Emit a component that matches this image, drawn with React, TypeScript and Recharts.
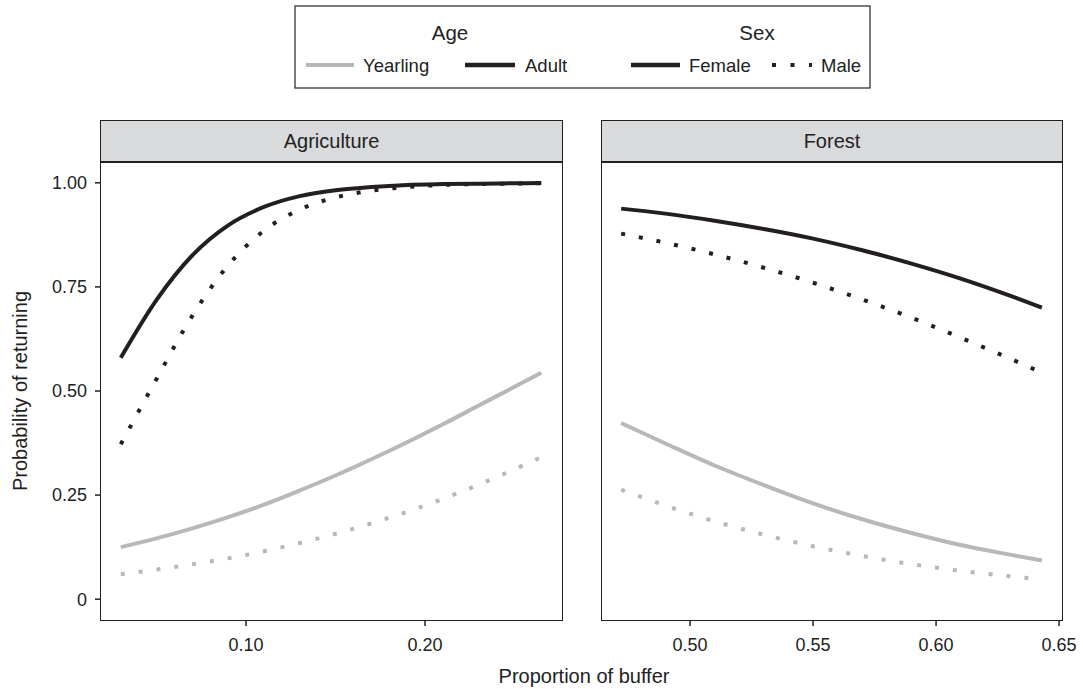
import React from "react";
import { LineChart, Line, XAxis, YAxis } from "recharts";

// Agriculture panel: proportion of buffer vs probability of returning
const agriX = [0.03, 0.05, 0.07, 0.09, 0.11, 0.13, 0.15, 0.17, 0.19, 0.21, 0.23, 0.25, 0.265];
const agriAdultFemale = [0.58, 0.719, 0.826, 0.898, 0.942, 0.968, 0.982, 0.99, 0.995, 0.997, 0.998, 0.999, 0.9995];
const agriAdultMale = [0.372, 0.529, 0.681, 0.802, 0.885, 0.936, 0.965, 0.981, 0.99, 0.995, 0.997, 0.998, 0.999];
const agriYearlingFemale = [0.125, 0.146, 0.17, 0.197, 0.227, 0.261, 0.297, 0.336, 0.377, 0.42, 0.465, 0.51, 0.544];
const agriYearlingMale = [0.06, 0.071, 0.084, 0.098, 0.115, 0.135, 0.157, 0.182, 0.21, 0.241, 0.275, 0.312, 0.341];

// Forest panel
const forestX = [0.472, 0.49, 0.51, 0.53, 0.55, 0.57, 0.59, 0.61, 0.63, 0.643];
const forestAdultFemale = [0.938, 0.926, 0.909, 0.889, 0.866, 0.838, 0.806, 0.77, 0.729, 0.7];
const forestAdultMale = [0.878, 0.856, 0.828, 0.796, 0.76, 0.72, 0.676, 0.628, 0.578, 0.544];
const forestYearlingFemale = [0.423, 0.374, 0.321, 0.274, 0.23, 0.192, 0.159, 0.13, 0.107, 0.093];
const forestYearlingMale = [0.263, 0.225, 0.187, 0.155, 0.127, 0.104, 0.084, 0.068, 0.055, 0.048];

const yTicks = [0, 0.25, 0.5, 0.75, 1];
const agriTicks = [0.1, 0.2];
const forestTicks = [0.5, 0.55, 0.6, 0.65];

const BLACK = "#231f20";
const GREY = "#b8b8b8";
const DOTS = "4 14";
const FONT = "'Liberation Sans', Arial, Helvetica, sans-serif";

const buildRows = (xs: number[], af: number[], am: number[], yf: number[], ym: number[]) =>
  xs.map((x, i) => ({ x, af: af[i], am: am[i], yf: yf[i], ym: ym[i] }));

const agriRows = buildRows(agriX, agriAdultFemale, agriAdultMale, agriYearlingFemale, agriYearlingMale);
const forestRows = buildRows(forestX, forestAdultFemale, forestAdultMale, forestYearlingFemale, forestYearlingMale);

const tickStyle = { fontSize: 18, fill: "#222", fontFamily: FONT };
const fmtY = (v: number) => (v === 0 ? "0" : v.toFixed(2));
const fmtX = (v: number) => v.toFixed(2);

function Series() {
  return [
    <Line key="yf" dataKey="yf" type="monotone" stroke={GREY} strokeWidth={4} dot={false} isAnimationActive={false} />,
    <Line key="ym" dataKey="ym" type="monotone" stroke={GREY} strokeWidth={4} strokeDasharray={DOTS} dot={false} isAnimationActive={false} />,
    <Line key="af" dataKey="af" type="monotone" stroke={BLACK} strokeWidth={4} dot={false} isAnimationActive={false} />,
    <Line key="am" dataKey="am" type="monotone" stroke={BLACK} strokeWidth={4} strokeDasharray={DOTS} dot={false} isAnimationActive={false} />,
  ];
}

function Strip({ left, width, label }: { left: number; width: number; label: string }) {
  return (
    <div
      style={{
        position: "absolute",
        left,
        top: 120,
        width,
        height: 43,
        boxSizing: "border-box",
        background: "#d9dadc",
        border: `1.5px solid ${BLACK}`,
        borderBottomWidth: 2,
        display: "flex",
        alignItems: "center",
        justifyContent: "center",
        fontSize: 20,
        color: "#222",
      }}
    >
      {label}
    </div>
  );
}

function Frame({ left, width }: { left: number; width: number }) {
  return (
    <div
      style={{
        position: "absolute",
        left,
        top: 161,
        width,
        height: 460,
        boxSizing: "border-box",
        border: `1.5px solid ${BLACK}`,
        pointerEvents: "none",
      }}
    />
  );
}

export default function App() {
  return (
    <div style={{ position: "absolute", left: 0, top: 0, width: 1083, height: 689, background: "#fff", fontFamily: FONT }}>
      {/* legend */}
      <svg width={1083} height={100} style={{ position: "absolute", left: 0, top: 0 }}>
        <rect x={295} y={6} width={575} height={82} fill="#fff" stroke="#333" strokeWidth={1.3} />
        <g fontFamily={FONT} fill="#222">
          <text x={450} y={32} fontSize={20.5} textAnchor="middle" dominantBaseline="central">Age</text>
          <text x={757} y={32} fontSize={20.5} textAnchor="middle" dominantBaseline="central">Sex</text>
          <text x={363} y={65} fontSize={18.5} dominantBaseline="central">Yearling</text>
          <text x={525} y={65} fontSize={18.5} dominantBaseline="central">Adult</text>
          <text x={689} y={65} fontSize={18.5} dominantBaseline="central">Female</text>
          <text x={821} y={65} fontSize={18.5} dominantBaseline="central">Male</text>
        </g>
        <line x1={306} x2={354} y1={65} y2={65} stroke={GREY} strokeWidth={4} />
        <line x1={465} x2={515} y1={65} y2={65} stroke={BLACK} strokeWidth={4.5} />
        <line x1={631} x2={680} y1={65} y2={65} stroke={BLACK} strokeWidth={4.5} />
        <line x1={772} x2={812} y1={65} y2={65} stroke={BLACK} strokeWidth={4} strokeDasharray="4 14.5" />
      </svg>

      <Strip left={100} width={463} label="Agriculture" />
      <Strip left={601} width={462} label="Forest" />

      <div style={{ position: "absolute", left: 0, top: 162 }}>
        <LineChart width={563} height={500} data={agriRows} margin={{ top: 0, right: 0, bottom: 0, left: 0 }}>
          <XAxis
            dataKey="x"
            type="number"
            domain={[0.0184, 0.2771]}
            ticks={agriTicks}
            tickFormatter={fmtX}
            allowDataOverflow
            height={42}
            axisLine={false}
            tickSize={6}
            tickMargin={12}
            tickLine={{ stroke: BLACK, strokeWidth: 1.5 }}
            tick={tickStyle}
          />
          <YAxis
            type="number"
            domain={[-0.05, 1.05]}
            ticks={yTicks}
            tickFormatter={fmtY}
            allowDataOverflow
            width={100}
            axisLine={false}
            tickSize={5}
            tickMargin={8}
            tickLine={{ stroke: BLACK, strokeWidth: 1.5 }}
            tick={tickStyle}
          />
          {Series()}
        </LineChart>
      </div>

      <div style={{ position: "absolute", left: 601, top: 162 }}>
        <LineChart width={482} height={500} data={forestRows} margin={{ top: 0, right: 20, bottom: 0, left: 0 }}>
          <XAxis
            dataKey="x"
            type="number"
            domain={[0.4638, 0.6516]}
            ticks={forestTicks}
            tickFormatter={fmtX}
            allowDataOverflow
            height={42}
            axisLine={false}
            tickSize={6}
            tickMargin={12}
            tickLine={{ stroke: BLACK, strokeWidth: 1.5 }}
            tick={tickStyle}
          />
          <YAxis type="number" domain={[-0.05, 1.05]} allowDataOverflow hide />
          {Series()}
        </LineChart>
      </div>

      <Frame left={100} width={463} />
      <Frame left={601} width={462} />

      {/* axis titles */}
      <svg width={1083} height={689} style={{ position: "absolute", left: 0, top: 0, pointerEvents: "none" }}>
        <text
          x={20}
          y={391}
          transform="rotate(-90 20 391)"
          fontSize={20}
          fontFamily={FONT}
          fill="#222"
          textAnchor="middle"
          dominantBaseline="central"
        >
          Probability of returning
        </text>
        <text x={584} y={676} fontSize={20} fontFamily={FONT} fill="#222" textAnchor="middle" dominantBaseline="central">
          Proportion of buffer
        </text>
      </svg>
    </div>
  );
}
